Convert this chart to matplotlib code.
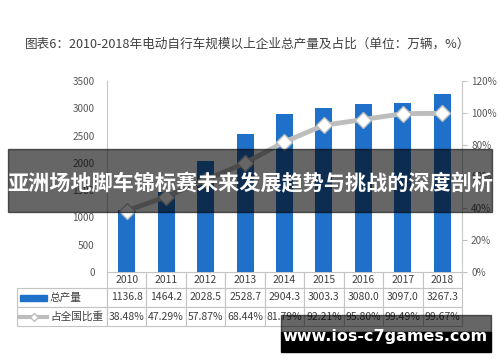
import matplotlib
matplotlib.use('Agg')
import matplotlib.pyplot as plt
from matplotlib.table import Table
from matplotlib.patches import Rectangle

plt.rcParams['font.family'] = ['Noto Sans CJK SC', 'DejaVu Sans']

# 数据
years = ['2010', '2011', '2012', '2013', '2014', '2015', '2016', '2017', '2018']
output = [1136.8, 1464.2, 2028.5, 2528.7, 2904.3, 3003.3, 3080.0, 3097.0, 3267.3]
share = [38.48, 47.29, 57.87, 68.44, 81.79, 92.21, 95.80, 99.49, 99.67]
left_ticks = [0, 500, 1000, 1500, 2000, 2500, 3000, 3500]
right_ticks = [0, 20, 40, 60, 80, 100, 120]
row_names = ['总产量', '占全国比重']

BLUE = '#1e70c8'
GRAY_LINE = '#bdbdbd'
TXT = '#404040'

fig = plt.figure(figsize=(5, 3.62), dpi=100)
W, H = 500, 362
ax = fig.add_axes([107 / W, 1 - 272 / H, 355 / W, 191 / H])
x = list(range(len(years)))

ax.bar(x, output, width=0.43, color=BLUE, zorder=2)
ax.set_xlim(-0.5, len(years) - 0.5)
ax.set_ylim(0, 3500)
ax.set_yticks(left_ticks)
ax.set_xticks([])
ax.tick_params(axis='y', length=0, pad=9, labelsize=7.2, labelcolor='#595959')
for s in ['top', 'right', 'bottom']:
    ax.spines[s].set_visible(False)
ax.spines['left'].set_color('#c8c8c8')

ax2 = ax.twinx()
ax2.plot(x, share, color=GRAY_LINE, lw=3.5, marker='D', ms=8,
         mfc='white', mec=GRAY_LINE, mew=1, zorder=3)
ax2.set_ylim(0, 120)
ax2.set_yticks(right_ticks, [f'{v}%' for v in right_ticks])
ax2.tick_params(axis='y', length=3.5, width=0.8, color='#bfbfbf', pad=3,
                labelsize=7.2, labelcolor='#595959')
for s in ['top', 'left', 'bottom']:
    ax2.spines[s].set_visible(False)
ax2.spines['right'].set_color('#c8c8c8')

# 表格（第0列为行标签列）
tbl = Table(ax, bbox=[-90 / 355, -54 / 191, 445 / 355, 54 / 191])
cw = 355 / len(years)
corner = tbl.add_cell(0, 0, width=90, height=16, text='')
corner.visible_edges = 'open'
tbl.add_cell(1, 0, width=90, height=19, text='')
tbl.add_cell(2, 0, width=90, height=19, text='')
for j, y in enumerate(years):
    tbl.add_cell(0, j + 1, width=cw, height=16, text=y, loc='center')
    tbl.add_cell(1, j + 1, width=cw, height=19, text=f'{output[j]:.1f}', loc='center')
    tbl.add_cell(2, j + 1, width=cw, height=19, text=f'{share[j]:.2f}%', loc='center')
tbl.auto_set_font_size(False)
tbl.set_fontsize(7.5)
for cell in tbl.get_celld().values():
    cell.set_edgecolor('#c4c4c4')
    cell.set_linewidth(0.8)
    cell.get_text().set_color(TXT)
ax.add_table(tbl)

# 行标签及图例符号
y1 = (272 - 297.5) / 191
y2 = (272 - 316.5) / 191
ax.add_patch(Rectangle(((20 - 107) / 355, y1 - 3 / 191), 27 / 355, 6 / 191,
                       transform=ax.transAxes, color=BLUE, clip_on=False, zorder=5))
ax.plot([(20 - 107) / 355, (47 - 107) / 355], [y2, y2], color=GRAY_LINE, lw=3,
        transform=ax.transAxes, clip_on=False, zorder=5)
ax.plot([(33.5 - 107) / 355], [y2], marker='D', ms=4, mfc='white', mec=GRAY_LINE,
        transform=ax.transAxes, clip_on=False, zorder=6)
ax.text((50 - 107) / 355, y1, row_names[0], transform=ax.transAxes,
        ha='left', va='center', fontsize=7.7, color=TXT, zorder=6)
ax.text((50 - 107) / 355, y2, row_names[1], transform=ax.transAxes,
        ha='left', va='center', fontsize=7.7, color=TXT, zorder=6)

# 标题
fig.text(25 / W, 1 - 44 / H,
         '图表6：2010-2018年电动自行车规模以上企业总产量及占比（单位：万辆，%）',
         ha='left', va='center', fontsize=9.1, color=TXT)

# 横幅
fig.patches.append(Rectangle((8 / W, 1 - 212 / H), 484 / W, 63 / H,
                             transform=fig.transFigure, color='black', alpha=0.6, zorder=10))
fig.text(250 / W, 1 - 184 / H, '亚洲场地脚车锦标赛未来发展趋势与挑战的深度剖析',
         ha='center', va='center', fontsize=15.2, fontweight='bold', color='white', zorder=11)

# 网址水印
fig.patches.append(Rectangle((281 / W, 1 - 332 / H), 210 / W, 17 / H,
                             transform=fig.transFigure, color='black', alpha=0.6, zorder=10))
fig.patches.append(Rectangle((281 / W, 1 - 352 / H), 210 / W, 20 / H,
                             transform=fig.transFigure, color='black', zorder=10))
fig.text(385 / W, 1 - 337 / H, 'www.ios-c7games.com', ha='center', va='center',
         fontsize=11.5, fontweight='bold', color='white', family='DejaVu Sans', zorder=11)

fig.savefig('out.png', dpi=100)
